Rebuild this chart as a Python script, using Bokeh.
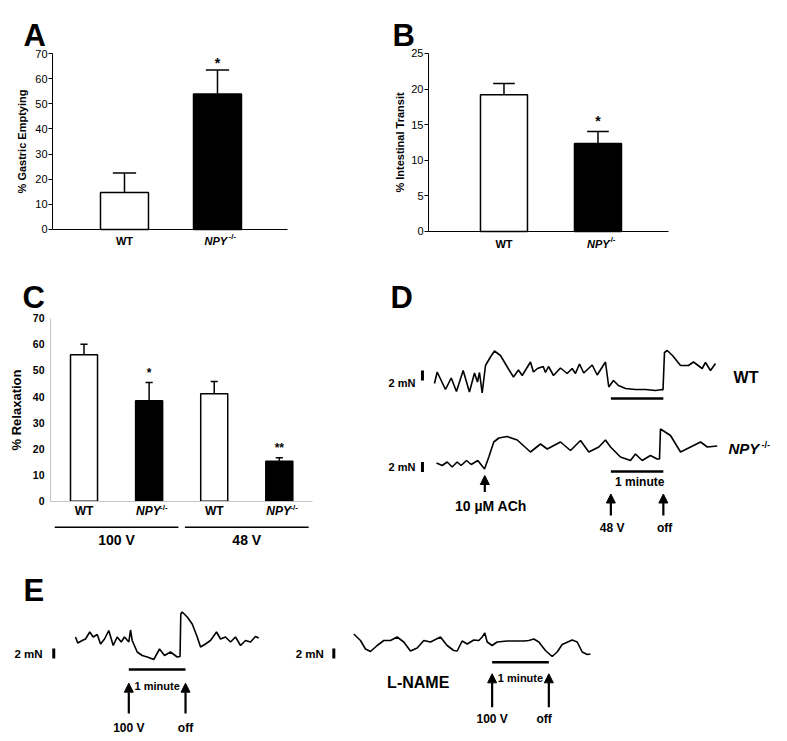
from bokeh.plotting import figure
from bokeh.layouts import column, row
from bokeh.models import Range1d, Label, Arrow, NormalHead, FixedTicker
from bokeh.embed import file_html
from bokeh.resources import INLINE

FONT = "Liberation Sans"

# ---------------- data ----------------
A_groups = ["WT", "NPY"]
A_mean = [14.7, 53.9]
A_sem = [7.8, 9.5]
A_sig = ["", "*"]
A_ticks = [0, 10, 20, 30, 40, 50, 60, 70]

B_groups = ["WT", "NPY"]
B_mean = [19.2, 12.35]
B_sem = [1.6, 1.7]
B_sig = ["", "*"]
B_ticks = [0, 5, 10, 15, 20, 25]

C_groups = ["WT", "NPY", "WT", "NPY"]
C_voltage = ["100 V", "48 V"]
C_mean = [56.0, 38.4, 41.1, 15.3]
C_sem = [4.0, 7.0, 4.7, 1.3]
C_sig = ["", "*", "", "**"]
C_ticks = [0, 10, 20, 30, 40, 50, 60, 70]

FILLS = {"WT": "white", "NPY": "black"}

# Panel D traces: time (s), tension (mN)
D_WT_t = [0, 3.1, 12.6, 19.2, 25.2, 32.9, 40.1, 45.9, 49.3, 51.6, 54.7, 58.5, 64.2, 68.8, 75.7,
          84.9, 90.6, 96.3, 100.6, 110.1, 113.5, 118.1, 124.7, 127.3, 130.8, 136.5, 144.5, 152.2,
          157.9, 161.7, 166.3, 171.2, 180.9, 186.6, 196.1, 199.9, 205.3, 211.0, 219.1, 230.5,
          242.0, 253.5, 261.2, 262.1, 263.8, 266.9, 273.0, 282.2, 291.3, 297.1, 307.0, 310.8,
          316.6, 322.3]
D_WT_f = [2.4, 4.7, 1.2, 3.5, 0.8, 5.0, 0.7, 4.5, 2.7, 4.6, 0.5, 6.0, 7.7, 8.9, 8.0, 5.3, 3.7,
          5.1, 4.0, 6.7, 4.7, 5.4, 5.8, 4.6, 5.8, 4.0, 5.5, 4.4, 5.4, 4.4, 6.3, 4.5, 6.1, 4.1,
          6.7, 1.7, 3.0, 2.0, 1.4, 1.2, 1.2, 1.0, 1.2, 1.1, 8.6, 9.0, 8.0, 6.0, 6.0, 6.7, 5.4,
          6.6, 5.0, 6.4]
D_NPY_t = [2.3, 8.8, 14.6, 20.3, 26.0, 30.6, 36.7, 42.1, 49.7, 57.4, 62.3, 68.0, 73.8, 83.4,
           94.9, 110.1, 121.6, 129.3, 144.5, 156.0, 167.5, 177.0, 188.5, 196.1, 201.9, 213.3,
           224.8, 230.5, 238.2, 247.7, 255.4, 258.1, 259.2, 270.7, 282.2, 293.7, 305.2, 312.9,
           324.3]
D_NPY_f = [1.9, 1.4, 2.1, 1.1, 2.1, 1.4, 2.4, 1.6, 2.4, 0.7, 3.1, 6.1, 6.9, 7.2, 6.5, 4.1, 5.7,
           4.7, 6.1, 4.4, 6.4, 4.1, 5.1, 6.5, 5.1, 3.1, 2.4, 3.7, 2.4, 3.4, 2.7, 2.7, 8.7, 7.4,
           4.1, 5.1, 6.1, 5.1, 5.3]
D_ach = 57.7
D_stim = [202.3, 262.5]      # 48 V on / off

# Panel E traces: time (s), tension (mN)
E1_t = [0, 2.4, 7.1, 10.6, 15.1, 18.7, 23.0, 26.5, 30.7, 35.2, 39.9, 44.1, 48.4, 51.8, 56.4,
        58.2, 60.0, 65.3, 70.6, 75.9, 82.8, 88.9, 94.2, 100.5, 107.6, 110.6, 111.4, 112.9,
        118.2, 123.5, 128.8, 132.3, 137.5, 142.8, 149.2, 153.4, 158.7, 164.0, 169.3, 174.6,
        179.9, 185.2, 190.4, 193.9]
E1_f = [4.7, 3.5, 4.0, 4.3, 5.7, 4.7, 5.2, 3.3, 4.3, 6.0, 3.0, 4.7, 3.7, 4.7, 3.7, 6.1, 4.0,
        1.7, 1.0, 0.7, 0.2, 2.3, 1.0, 1.7, 0.7, 0.8, 9.3, 9.7, 8.7, 7.3, 4.7, 2.7, 3.3, 4.0,
        5.7, 4.3, 4.7, 3.7, 4.7, 3.0, 4.0, 3.7, 4.8, 4.5]
E1_stim = [56.4, 116.4]      # 100 V on / off
E2_t = [0.3, 7.4, 12.7, 18.0, 25.1, 32.1, 39.1, 46.2, 53.2, 60.3, 67.4, 74.4, 81.5, 92.0, 99.1,
        106.1, 109.7, 115.0, 120.3, 127.3, 132.6, 136.2, 138.9, 141.5, 146.7, 152.0, 162.6,
        180.2, 185.5, 190.8, 196.1, 203.1, 210.2, 215.5, 220.8, 231.4, 236.7, 242.0, 247.3,
        250.7]
E2_f = [5.3, 4.0, 2.3, 1.8, 3.0, 4.0, 4.0, 4.7, 3.7, 1.9, 2.5, 4.0, 3.7, 4.7, 3.0, 2.0, 1.9,
        3.9, 3.3, 4.1, 4.0, 4.7, 5.5, 3.7, 3.0, 3.7, 3.9, 3.9, 4.0, 4.3, 3.7, 2.0, 0.8, 1.7,
        3.2, 4.1, 3.7, 1.7, 1.2, 1.3]
E2_stim = [146.7, 206.7]     # 100 V on / off (L-NAME)


def lab(p, x, y, text, size, style="bold", align="center", baseline="middle", x_offset=0):
    p.add_layout(Label(x=x, y=y, text=text, text_font=FONT, text_font_size=size,
                       text_font_style=style, text_align=align, text_baseline=baseline,
                       text_color="black", x_offset=x_offset))


def base_fig(width, height, xr, yr):
    p = figure(width=width, height=height, x_range=Range1d(*xr), y_range=Range1d(*yr),
               output_backend="svg", toolbar_location=None, title=None, min_border=0)
    p.grid.visible = False
    p.outline_line_color = None
    p.background_fill_color = "white"
    return p


def bar_panel(width, height, xr, yr, x_axis, x_end, ymax, ticks, groups, means, sems, sig,
              bar_w, cap_w, ylabel, axis_color, tick_style, tick_size, tick_out, lab_size,
              lab_standoff, cat_size, cat_y, npy_dx, sup_dx, sup_y, star_gap, star_size,
              letter, letter_xy):
    p = base_fig(width, height, xr, yr)
    xs = list(range(1, len(means) + 1))
    tops = [m + s for m, s in zip(means, sems)]
    p.segment(x0=xs, y0=means, x1=xs, y1=tops, line_color="black", line_width=1.5)
    p.segment(x0=[x - cap_w / 2 for x in xs], y0=tops, x1=[x + cap_w / 2 for x in xs], y1=tops,
              line_color="black", line_width=1.5)
    p.vbar(x=xs, top=means, width=bar_w, fill_color=[FILLS[g] for g in groups],
           line_color="black", line_width=1.5)
    ya = p.yaxis[0]
    ya.fixed_location = x_axis
    ya.bounds = (0, ymax)
    ya.ticker = FixedTicker(ticks=ticks)
    ya.axis_line_color = axis_color
    ya.major_tick_line_color = axis_color
    ya.major_tick_out = tick_out
    ya.major_tick_in = 0
    ya.minor_tick_out = 0
    ya.minor_tick_in = 0
    ya.major_label_text_font = FONT
    ya.major_label_text_font_size = tick_size
    ya.major_label_text_font_style = tick_style
    ya.major_label_text_color = "black"
    ya.major_label_standoff = 1 if tick_out else 6
    ya.axis_label = ylabel
    ya.axis_label_text_font = FONT
    ya.axis_label_text_font_size = lab_size
    ya.axis_label_text_font_style = "bold"
    ya.axis_label_text_color = "black"
    ya.axis_label_standoff = lab_standoff
    xa = p.xaxis[0]
    xa.fixed_location = 0
    xa.bounds = (x_axis, x_end)
    xa.ticker = FixedTicker(ticks=[])
    xa.axis_line_color = axis_color
    xa.major_tick_out = 0
    xa.major_tick_in = 0
    xa.minor_tick_out = 0
    xa.minor_tick_in = 0
    for x, g, top, s in zip(xs, groups, tops, sig):
        if g == "WT":
            lab(p, x, cat_y, "WT", cat_size)
        else:
            lab(p, x, cat_y, "NPY", cat_size, style="bold italic", align="left", x_offset=npy_dx)
            lab(p, x, sup_y, "-/-", "8px", align="left", x_offset=sup_dx)
        if s:
            lab(p, x, top + star_gap, s, star_size)
    lab(p, letter_xy[0], letter_xy[1], letter, "31px", align="left", baseline="alphabetic")
    return p


pA = bar_panel(360, 265, (-0.3332, 3.5378), (-14.32, 91.09), 0.226, 2.753, 70, A_ticks,
               A_groups, A_mean, A_sem, A_sig, 0.516, 0.25, "% Gastric Emptying", "black",
               "normal", "11px", 4, "11px", 4, "11px", -4.4, -13, 11, -2.8, 2.8, "14px",
               "A", (-0.086, 77.2))
pB = bar_panel(427, 265, (-0.5264, 4.0162), (-4.775, 32.44), 0.197, 2.75, 25, B_ticks,
               B_groups, B_mean, B_sem, B_sig, 0.5, 0.23, "% Intestinal Transit", "black",
               "normal", "11px", 4, "11px", 2, "11px", -1.73, -11, 10, -1.17, 1.45, "14px",
               "B", (-0.186, 27.5))
pC = bar_panel(340, 295, (-0.283, 4.940), (-22.69, 90.17), 0.485, 4.508, 70, C_ticks,
               C_groups, C_mean, C_sem, C_sig, 0.415, 0.11, "% Relaxation", "#c4c4c4",
               "bold", "10.5px", 0, "13px", 6, "12px", -3.94, -13, 11, -2.4, 3.8, "12px",
               "C", (0.055, 77.9))
for i, v in enumerate(C_voltage):
    c = 1.5 + 2 * i
    pC.add_layout(Arrow(end=None, x_start=c - 0.95, y_start=-9.95, x_end=c + 0.95, y_end=-9.95,
                        line_width=1.5, line_color="black"))
    lab(pC, c, -15.0, v, "14px")


def trace_fig(width, height, xr, yr):
    p = base_fig(width, height, xr, yr)
    p.axis.visible = False
    return p


def arrow(p, x, y0, y1):
    p.add_layout(Arrow(end=NormalHead(size=9, fill_color="black", line_color="black", line_width=1),
                       x_start=x, y_start=y0, x_end=x, y_end=y1, line_width=2.2,
                       line_color="black"))


def scale_bar(p, x, y0):
    p.segment(x0=[x], y0=[y0], x1=[x], y1=[y0 + 2], line_width=3, line_color="black")


# ---------------- Panel D ----------------
NPY_OFF = -15.4
pD = trace_fig(447, 295, (-107.8, 404.9), (-33.0, 26.0))
pD.line(D_WT_t, D_WT_f, line_width=1.6, line_color="black")
pD.line(D_NPY_t, [f + NPY_OFF for f in D_NPY_f], line_width=1.6, line_color="black")
pD.segment(x0=[D_stim[0], D_stim[0]], y0=[-0.6, NPY_OFF + 0.2], x1=[D_stim[1], D_stim[1]],
           y1=[-0.6, NPY_OFF + 0.2], line_width=2.5, line_color="black")
scale_bar(pD, -13.8, 3.0)
scale_bar(pD, -13.8, NPY_OFF + 0.1)
lab(pD, -21.8, 2.6, "2 mN", "11px", align="right")
lab(pD, -21.8, NPY_OFF + 1.1, "2 mN", "11px", align="right")
lab(pD, 343, 3.6, "WT", "16px", align="left", baseline="alphabetic")
lab(pD, 337.2, -10.6, "NPY", "15px", style="bold italic", align="left", baseline="alphabetic")
lab(pD, 375, -9.8, "-/-", "9px", align="left", baseline="alphabetic")
lab(pD, (D_stim[0] + D_stim[1]) / 2 + 3, -17.2, "1 minute", "12px")
arrow(pD, D_ach, -19.3, -16.0)
lab(pD, D_ach + 7, -22.1, "10 \u00b5M ACh", "14px")
for x, txt in zip(D_stim, ["48 V", "off"]):
    arrow(pD, x, -24.0, -19.7)
    lab(pD, x + 1.5, -26.5, txt, "12px")
lab(pD, -50.5, 19.6, "D", "31px", align="left", baseline="alphabetic")

# ---------------- Panel E ----------------
E2_SHIFT = 294.1
pE = trace_fig(787, 181, (-79.35, 753.3), (-16.2, 20.0))
pE.line(E1_t, E1_f, line_width=1.6, line_color="black")
pE.line([t + E2_SHIFT for t in E2_t], E2_f, line_width=1.6, line_color="black")
pE.segment(x0=[E1_stim[0], E2_stim[0] + E2_SHIFT], y0=[-1.8, -0.34],
           x1=[E1_stim[1], E2_stim[1] + E2_SHIFT], y1=[-1.8, -0.34],
           line_width=2.5, line_color="black")
scale_bar(pE, -23.0, 0.4)
scale_bar(pE, 273.3, 0.4)
lab(pE, -34.9, 1.34, "2 mN", "11.5px", align="right")
lab(pE, 262.7, 1.34, "2 mN", "11.5px", align="right")
lab(pE, (E1_stim[0] + E1_stim[1]) / 2, -5.0, "1 minute", "11px")
lab(pE, (E2_stim[0] + E2_stim[1]) / 2 + E2_SHIFT, -3.46, "1 minute", "11px")
for x, txt in zip(E1_stim, ["100 V", "off"]):
    arrow(pE, x, -10.6, -4.54)
    lab(pE, x, -13.5, txt, "12px")
for x, txt in zip(E2_stim, ["100 V", "off"]):
    arrow(pE, x + E2_SHIFT, -9.34, -2.66)
    lab(pE, x + E2_SHIFT - (5 if txt == "off" else 0), -11.66, txt, "12px")
lab(pE, 68.5 + E2_SHIFT, -4.34, "L-NAME", "16px")
lab(pE, -55.0, 14.0, "E", "31px", align="left", baseline="alphabetic")

layout = column(row(pA, pB), row(pC, pD), pE)
open("out.html", "w").write(file_html(layout, INLINE))
